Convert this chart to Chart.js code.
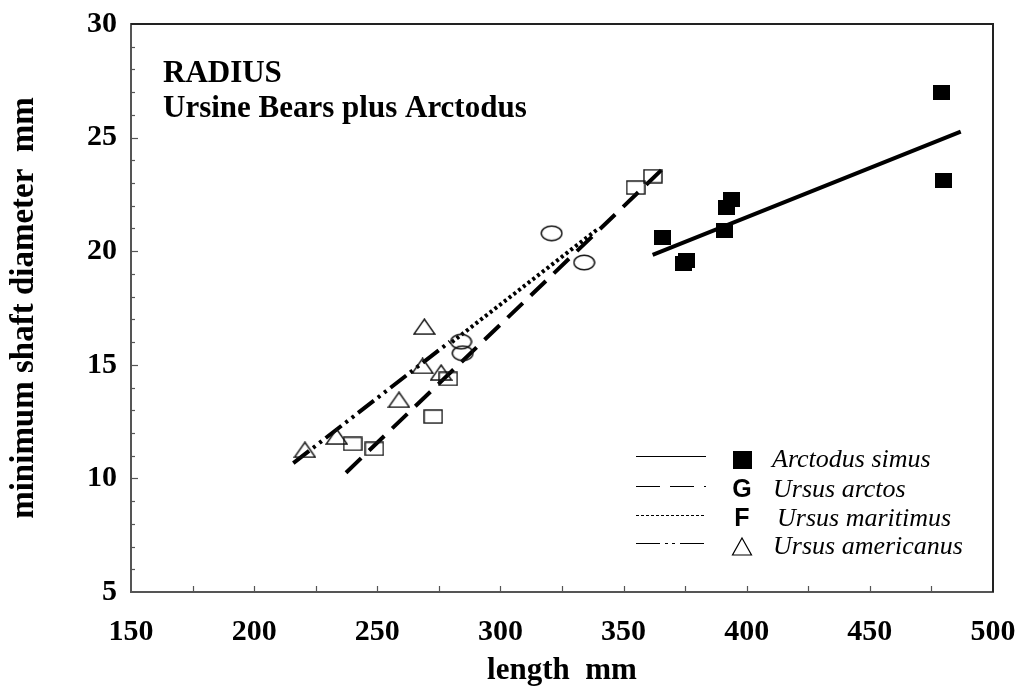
<!DOCTYPE html>
<html>
<head>
<meta charset="utf-8">
<script src="https://cdn.jsdelivr.net/npm/chart.js@4"></script>
<style>
  body { margin: 0; background: #fff; }
  canvas { display: block; }
</style>
</head>
<body>
<canvas id="radiusChart" width="1019" height="690"></canvas>
<script>
// Datos (longitud mm / diámetro mínimo mm)
var arctodusLength = [478.9, 479.8, 393.9, 391.6, 390.9, 365.9, 375.6, 374.5];
var arctodusDiam   = [27.0, 23.1, 22.29, 21.92, 20.91, 20.6, 19.59, 19.44];
var arctosLength = [240.0, 248.8, 272.7, 278.8, 354.9, 361.9];
var arctosDiam   = [11.52, 11.30, 12.72, 14.38, 22.8, 23.3];
var maritimusLength = [320.8, 334.0, 284.0, 284.7];
var maritimusDiam   = [20.79, 19.5, 16.02, 15.51];
var americanusLength = [220.6, 233.5, 258.8, 268.4, 269.1, 275.9];
var americanusDiam   = [11.26, 11.84, 13.46, 14.95, 16.68, 14.66];

// Rectas de regresión (extremos)
var arctodusFitX = [361.8, 486.9],   arctodusFitY = [19.84, 25.26];
var arctosFitX = [237.3, 366.8],     arctosFitY = [10.25, 23.72];
var maritimusFitX = [280.3, 339.1],  maritimusFitY = [16.0, 20.94];
var americanusFitX = [215.9, 279.5], americanusFitY = [10.67, 16.02];

var xTicks = [150, 200, 250, 300, 350, 400, 450, 500];
var yTicks = [5, 10, 15, 20, 25, 30];
var legendLabels = ['Arctodus simus', 'Ursus arctos', 'Ursus maritimus', 'Ursus americanus'];
var legendGlyphs = ['', 'G', 'F', ''];
var titleLines = ['RADIUS', 'Ursine Bears plus Arctodus'];

function pares(xs, ys) {
    return xs.map(function(x, i) { return { x: x, y: ys[i] }; });
}

function marcador(w, h, dibujar) {
    var c = document.createElement('canvas');
    c.width = w; c.height = h;
    var g = c.getContext('2d');
    g.strokeStyle = '#111';
    g.fillStyle = '#000';
    g.lineWidth = 1.4;
    dibujar(g);
    return c;
}

var cuadradoLleno = marcador(17, 15, function(g) { g.fillRect(0, 0, 17, 15); });
var cuadradoVacio = marcador(20, 15, function(g) { g.strokeRect(1, 1, 18, 13); });
var elipse = marcador(23, 17, function(g) {
    g.beginPath(); g.ellipse(11.5, 8.5, 10.3, 7.3, 0, 0, Math.PI * 2); g.stroke();
});
var triangulo = marcador(23, 17, function(g) {
    g.beginPath(); g.moveTo(11.5, 1); g.lineTo(22, 16); g.lineTo(1, 16); g.closePath(); g.stroke();
});

var serif = "'Liberation Serif', 'Times New Roman', serif";

// Marcas interiores, marco, título y leyenda
var decoracion = {
    id: 'decoracion',
    afterDraw: function(chart) {
        var ctx = chart.ctx, a = chart.chartArea;
        var sx = chart.scales.x, sy = chart.scales.y;
        ctx.save();
        ctx.strokeStyle = '#555';
        ctx.lineWidth = 1.2;
        for (var v = 175; v < 500; v += 25) {
            var px = Math.round(sx.getPixelForValue(v)) + 0.5;
            ctx.beginPath(); ctx.moveTo(px, a.bottom); ctx.lineTo(px, a.bottom - 6); ctx.stroke();
        }
        for (var w = 6; w < 30; w++) {
            var py = Math.round(sy.getPixelForValue(w)) + 0.5;
            var len = (w % 5 === 0) ? 7 : 4;
            ctx.beginPath(); ctx.moveTo(a.left, py); ctx.lineTo(a.left + len, py); ctx.stroke();
        }
        // marco superior y derecho
        ctx.strokeStyle = '#222';
        ctx.lineWidth = 2;
        ctx.beginPath();
        ctx.moveTo(a.left, a.top); ctx.lineTo(a.right, a.top); ctx.lineTo(a.right, a.bottom);
        ctx.stroke();

        // título
        ctx.fillStyle = '#000';
        ctx.font = 'bold 31px ' + serif;
        ctx.textBaseline = 'alphabetic';
        ctx.fillText(titleLines[0], 163, 82);
        ctx.fillText(titleLines[1], 163, 117);

        // leyenda
        var filas = [460, 490, 519, 547];
        var dashes = [[], [24, 10], [3, 2], [24, 5, 3, 4, 3, 5]];
        ctx.lineWidth = 1.2;
        ctx.strokeStyle = '#000';
        filas.forEach(function(y, i) {
            ctx.setLineDash(dashes[i]);
            ctx.beginPath(); ctx.moveTo(636, y - 3.5); ctx.lineTo(706, y - 3.5); ctx.stroke();
        });
        ctx.setLineDash([]);
        ctx.fillRect(733, 451, 19, 18);
        ctx.font = 'bold 25px "Liberation Sans", Arial, sans-serif';
        ctx.textAlign = 'center';
        ctx.textBaseline = 'middle';
        ctx.fillText(legendGlyphs[1], 742, 490);
        ctx.fillText(legendGlyphs[2], 742, 519);
        ctx.lineWidth = 1.2;
        ctx.beginPath(); ctx.moveTo(742, 538); ctx.lineTo(751.5, 555); ctx.lineTo(732.5, 555); ctx.closePath(); ctx.stroke();
        ctx.textAlign = 'left';
        ctx.font = 'italic 26px ' + serif;
        var xs = [772, 773, 777, 773];
        filas.forEach(function(y, i) { ctx.fillText(legendLabels[i], xs[i], y); });
        ctx.restore();
    }
};

var fuenteTicks = { family: serif, size: 30, weight: 'bold' };
var fuenteTituloX = { family: serif, size: 31, weight: 'bold' };
var fuenteTituloY = { family: serif, size: 33, weight: 'bold' };

var ctx = document.getElementById('radiusChart').getContext('2d');
var radiusChart = new Chart(ctx, {
    type: 'scatter',
    data: {
        datasets: [
            { label: 'Arctodus simus', data: pares(arctodusLength, arctodusDiam), pointStyle: cuadradoLleno, order: 1 },
            { label: 'Ursus arctos', data: pares(arctosLength, arctosDiam), pointStyle: cuadradoVacio, order: 1 },
            { label: 'Ursus maritimus', data: pares(maritimusLength, maritimusDiam), pointStyle: elipse, order: 1 },
            { label: 'Ursus americanus', data: pares(americanusLength, americanusDiam), pointStyle: triangulo, order: 1 },
            { label: 'fit arctodus', data: pares(arctodusFitX, arctodusFitY), showLine: true, pointRadius: 0,
              borderColor: '#000', borderWidth: 4, order: 2 },
            { label: 'fit arctos', data: pares(arctosFitX, arctosFitY), showLine: true, pointRadius: 0,
              borderColor: '#000', borderWidth: 4, borderDash: [21, 11], order: 2 },
            { label: 'fit maritimus', data: pares(maritimusFitX, maritimusFitY), showLine: true, pointRadius: 0,
              borderColor: '#000', borderWidth: 4, borderDash: [3, 3], order: 2 },
            { label: 'fit americanus', data: pares(americanusFitX, americanusFitY), showLine: true, pointRadius: 0,
              borderColor: '#000', borderWidth: 4, borderDash: [20, 5, 3, 5, 3, 5], order: 2 }
        ]
    },
    options: {
        responsive: false,
        animation: false,
        layout: { padding: { top: 24, right: 26, left: 0, bottom: 0 } },
        plugins: { legend: { display: false }, tooltip: { enabled: false } },
        scales: {
            x: {
                type: 'linear', min: 150, max: 500,
                afterFit: function(s) { s.height = 98; s.paddingLeft = 0; s.paddingRight = 0; },
                afterBuildTicks: function(s) { s.ticks = xTicks.map(function(v) { return { value: v }; }); },
                ticks: { font: fuenteTicks, color: '#000', padding: 22, maxRotation: 0 },
                grid: { display: false, drawTicks: false },
                border: { color: '#555', width: 2 },
                title: { display: true, text: 'length  mm', font: fuenteTituloX, color: '#000', padding: { top: 0, bottom: 0 } }
            },
            y: {
                type: 'linear', min: 5, max: 30,
                afterFit: function(s) { s.width = 131; s.paddingTop = 0; s.paddingBottom = 0; },
                afterBuildTicks: function(s) { s.ticks = yTicks.map(function(v) { return { value: v }; }); },
                ticks: { font: fuenteTicks, color: '#000', padding: 14 },
                grid: { display: false, drawTicks: false },
                border: { color: '#555', width: 2 },
                title: { display: true, text: 'minimum shaft diameter  mm', font: fuenteTituloY, color: '#000', padding: { top: 5, bottom: 0 } }
            }
        }
    },
    plugins: [decoracion]
});
</script>
</body>
</html>
